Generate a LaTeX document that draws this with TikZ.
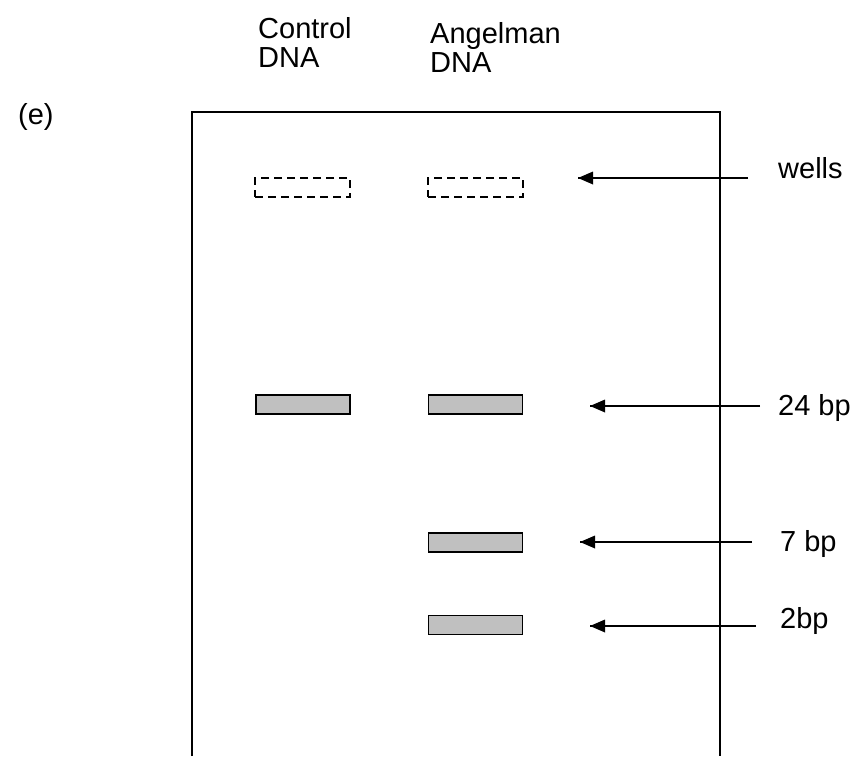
\documentclass[tikz,border=0pt]{standalone}
\usepackage{fontspec}
\setmainfont{Liberation Sans}
\usepackage{tikz}

\begin{document}
\begin{tikzpicture}[x=1pt,y=-1pt]
    \tikzstyle{every node}+=[inner sep=0pt, font=\fontsize{29}{30}\selectfont]
    \tikzstyle{well}=[draw=black, line width=1.6pt, dash pattern=on 8pt off 5pt, minimum width=95pt, minimum height=19pt]
    \tikzstyle{band}=[draw=black, fill={rgb,255:red,192;green,192;blue,192}, line width=1.8pt, minimum width=94pt, minimum height=19pt]
    \useasboundingbox (0,0) rectangle (852,756);
    % gel outline, open at the bottom
    \draw [black, line width=2pt] (192,756) -- (192,112) -- (720,112) -- (720,756);
    % lane headings
    \node [anchor=base west] (ctrlA) at (258,38) {Control};
    \node [anchor=base west] (ctrlB) at (258,67) {DNA};
    \node [anchor=base west] (angA) at (430,43) {Angelman};
    \node [anchor=base west] (angB) at (430,72) {DNA};
    \node [anchor=base west] (part) at (18,124) {(e)};
    % wells
    \node [well] (wellC) at (302.5,187.5) {};
    \node [well] (wellA) at (475.5,187.5) {};
    % bands
    \node [band] (c24) at (303,404.5) {};
    \node [band] (a24) at (475.5,404.5) {};
    \node [band] (a7) at (475.5,542.5) {};
    \node [band] (a2) at (475.5,625) {};
    % labels
    \node [anchor=base west] (lwells) at (778,178) {wells};
    \node [anchor=base west] (l24) at (778,415) {24 bp};
    \node [anchor=base west] (l7) at (780,551) {7 bp};
    \node [anchor=base west] (l2) at (780,628) {2bp};
    % arrows
    \coordinate (twells) at (748,178);
    \coordinate (hwells) at (578,178);
    \coordinate (t24) at (760,406);
    \coordinate (h24) at (590,406);
    \coordinate (t7) at (752,542);
    \coordinate (h7) at (580,542);
    \coordinate (t2) at (756,626);
    \coordinate (h2) at (590,626);
    \foreach \p in {wells,24,7,2} {
        \draw [black, line width=1.8pt] (t\p) -- (h\p);
        \fill [black] (h\p) -- ++(15,-6.5) -- ++(0,13) -- cycle;
    }
\end{tikzpicture}
\end{document}
